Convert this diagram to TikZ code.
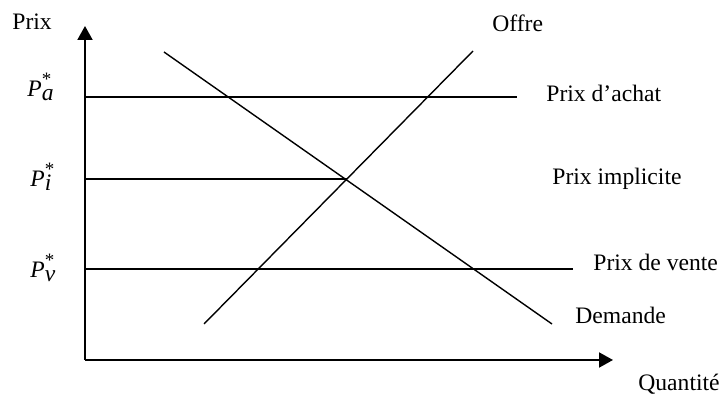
\documentclass[tikz,border=0pt]{standalone}
\usepackage{amsmath}
\usepackage{fontspec}
\setmainfont{Liberation Serif}
\usetikzlibrary{arrows.meta}
\usetikzlibrary{positioning}

\tikzset{
  axe/.style={line width=1pt,-{Triangle[length=7pt,width=7.5pt]}},
  courbe/.style={line width=0.7pt},
  etiq/.style={inner sep=0pt,anchor=base west,font=\fontsize{11.8}{14}\selectfont},
}
\newcommand{\prixstar}[1]{\textit{P}\makebox[0pt][l]{\raisebox{5.5pt}{\fontsize{9.5}{10}\selectfont *}}\raisebox{-2pt}{\textit{#1}}}

\begin{document}
\begin{tikzpicture}[x=0.5pt,y=-0.5pt]
\useasboundingbox (0,0) rectangle (723,394);
% axes
\coordinate (O) at (85,360);
\coordinate (ytop) at (85,26);
\coordinate (xend) at (613,360);
\draw[axe] (O) -- (ytop);
\draw[axe] (O) -- (xend);
% prix
\coordinate (pa0) at (85,97);   \coordinate (pa1) at (517,97);
\coordinate (pi0) at (85,179);  \coordinate (pi1) at (347,179);
\coordinate (pv0) at (85,269);  \coordinate (pv1) at (573,269);
\draw[courbe] (pa0) -- (pa1);
\draw[courbe] (pi0) -- (pi1);
\draw[courbe] (pv0) -- (pv1);
% offre et demande
\coordinate (d0) at (164,52);  \coordinate (d1) at (552,324);
\coordinate (o0) at (204,324); \coordinate (o1) at (473,51);
\draw[courbe] (d0) -- (d1);
\draw[courbe] (o0) -- (o1);
% textes
\node[etiq] (prix) at (12,30) {Prix};
\node[etiq] (qte) at (638,391) {Quantité};
\node[etiq] (offre) at (492,32) {Offre};
\node[etiq] (demande) at (575,324) {Demande};
\node[etiq] (achat) at (546,102) {Prix d’achat};
\node[etiq] (impl) at (552,185) {Prix implicite};
\node[etiq] (vente) at (593,271) {Prix de vente};
\node[etiq] (Pa) at (27,97) {\prixstar{a}};
\node[etiq] (Pi) at (30,187) {\prixstar{i}};
\node[etiq] (Pv) at (30,278) {\prixstar{v}};
\end{tikzpicture}
\end{document}
